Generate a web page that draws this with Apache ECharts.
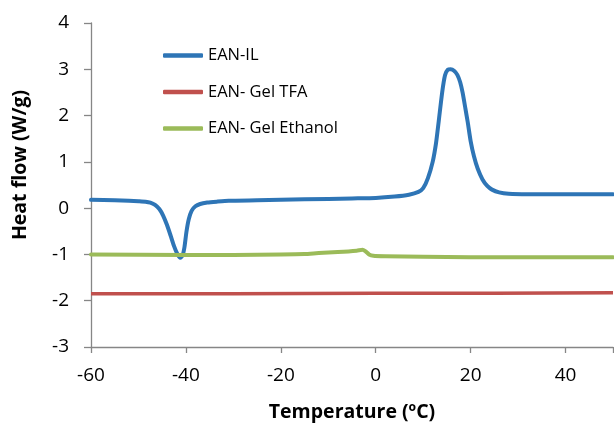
<!DOCTYPE html>
<html>
<head>
<meta charset="utf-8">
<script src="https://cdn.jsdelivr.net/npm/echarts@6/dist/echarts.min.js"></script>
<style>html,body{margin:0;padding:0;background:#fff}#c{width:614px;height:424px}</style>
</head>
<body>
<div id="c"></div>
<script>
var seriesNames = ['EAN-IL', 'EAN- Gel TFA', 'EAN- Gel Ethanol'];
var xTicks = [-60, -40, -20, 0, 20, 40];
var yTicks = [-3, -2, -1, 0, 1, 2, 3, 4];

var eanIL = [
  [-60, 0.18], [-55, 0.17], [-52, 0.16], [-50, 0.15], [-48.5, 0.14], [-47.5, 0.12],
  [-46.5, 0.07], [-45.6, -0.02], [-44.8, -0.16], [-44, -0.36], [-43.2, -0.60],
  [-42.5, -0.82], [-41.8, -0.99], [-41.2, -1.07], [-40.7, -1.02], [-40.3, -0.84],
  [-39.9, -0.52], [-39.4, -0.24], [-38.8, -0.06], [-38, 0.04], [-37, 0.09],
  [-35.5, 0.12], [-33.5, 0.14], [-31, 0.16], [-25, 0.17], [-20, 0.18], [-10, 0.20],
  [-5, 0.21], [0, 0.22], [4, 0.25], [7, 0.29], [9, 0.35], [10, 0.43], [11, 0.65],
  [12, 1.0], [12.7, 1.4], [13.3, 1.9], [14.0, 2.5], [14.6, 2.87], [15.2, 2.99],
  [15.8, 3.0], [16.5, 2.97], [17.2, 2.88], [17.8, 2.72], [18.3, 2.5], [18.9, 2.15],
  [19.4, 1.85], [20.0, 1.45], [20.7, 1.12], [21.5, 0.85], [22.5, 0.62],
  [23.5, 0.48], [24.5, 0.40], [26, 0.34], [28, 0.31], [32, 0.30], [40, 0.30],
  [50, 0.30]
];
var gelTFA = [[-60, -1.85], [-30, -1.85], [0, -1.84], [25, -1.84], [50, -1.83]];
var gelEthanol = [
  [-60, -1.00], [-40, -1.01], [-30, -1.01], [-20, -1.00], [-15, -0.99],
  [-12, -0.97], [-8, -0.95], [-4, -0.92], [-2.8, -0.90], [-2.2, -0.93],
  [-1.4, -1.00], [-0.5, -1.03], [2, -1.04], [10, -1.05], [20, -1.06],
  [30, -1.06], [50, -1.06]
];

var colors = ['#2E75B6', '#C0504D', '#9BBB59'];
var FONT = 'Open Sans';
var chart = echarts.init(document.getElementById('c'));
chart.setOption({
  animation: false,
  color: colors,
  grid: { left: 91, right: 1, top: 23, bottom: 77, containLabel: false, outerBoundsMode: 'none' },
  legend: {
    orient: 'vertical', left: 163, top: 47, padding: 0, itemWidth: 40, itemHeight: 4.5, itemGap: 19.5,
    icon: 'roundRect',
    textStyle: { fontFamily: FONT, fontSize: 16.5, color: '#000' },
    data: seriesNames
  },
  xAxis: {
    type: 'value', min: xTicks[0], max: 50, interval: 20,
    name: 'Temperature (ºC)', nameLocation: 'middle', nameGap: 55,
    nameTextStyle: { fontFamily: FONT, fontSize: 19.5, fontWeight: 'bold', color: '#000' },
    axisLine: { show: true, onZero: false, lineStyle: { color: '#868686', width: 1.3 } },
    axisTick: { show: true, length: 6, lineStyle: { color: '#868686', width: 1.3 } },
    axisLabel: { fontFamily: FONT, fontSize: 19, color: '#000', margin: 19,
      formatter: function (v) { return xTicks.indexOf(v) >= 0 ? String(v) : ''; } },
    splitLine: { show: false }
  },
  yAxis: {
    type: 'value', min: yTicks[0], max: yTicks[yTicks.length - 1], interval: 1,
    name: 'Heat flow (W/g)', nameLocation: 'middle', nameGap: 61,
    nameTextStyle: { fontFamily: FONT, fontSize: 19.5, fontWeight: 'bold', color: '#000', padding: [0, 0, 0, 40] },
    axisLine: { show: true, onZero: false, lineStyle: { color: '#868686', width: 1.3 } },
    axisTick: { show: true, length: 7, lineStyle: { color: '#868686', width: 1.3 } },
    axisLabel: { fontFamily: FONT, fontSize: 19, color: '#000', margin: 22 },
    splitLine: { show: false }
  },
  series: [
    { name: seriesNames[0], type: 'line', data: eanIL, symbol: 'none', smooth: 0.2,
      lineStyle: { width: 4, color: colors[0], join: 'round', cap: 'round' } },
    { name: seriesNames[1], type: 'line', data: gelTFA, symbol: 'none',
      lineStyle: { width: 3.5, color: colors[1] } },
    { name: seriesNames[2], type: 'line', data: gelEthanol, symbol: 'none', smooth: 0.2,
      lineStyle: { width: 4, color: colors[2], join: 'round', cap: 'round' } }
  ]
});
</script>
</body>
</html>
